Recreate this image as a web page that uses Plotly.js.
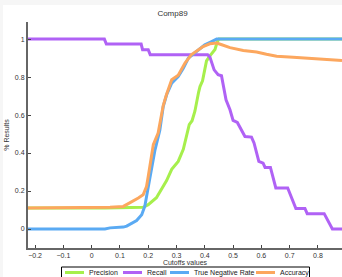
<!DOCTYPE html>
<html>
<head>
<meta charset="utf-8">
<script src="https://cdn.plot.ly/plotly-3.0.1.min.js"></script>
<style>
html,body{margin:0;padding:0;background:#f6f6f6;}
#chart{position:absolute;left:3px;top:5px;width:339px;height:272px;background:#fff;}
</style>
</head>
<body>
<div id="chart"></div>
<script>
const seriesNames = ["Precision", "Recall", "True Negative Rate", "Accuracy"];
const seriesColors = ["#a6ef4c", "#b062f5", "#5aaaf3", "#fca75e"];

const precisionX = [-0.225, 0.047, 0.182, 0.2, 0.229, 0.247, 0.265, 0.283, 0.306, 0.324, 0.338, 0.345, 0.355, 0.365, 0.378, 0.383, 0.392, 0.4, 0.406, 0.418, 0.436, 0.444, 0.45, 0.885];
const precisionY = [0.11, 0.11, 0.114, 0.128, 0.165, 0.207, 0.255, 0.314, 0.356, 0.42, 0.5, 0.55, 0.57, 0.62, 0.72, 0.75, 0.78, 0.85, 0.885, 0.912, 0.945, 0.985, 1, 1];

const recallX = [-0.225, 0.045, 0.052, 0.175, 0.18, 0.2, 0.207, 0.41, 0.418, 0.433, 0.447, 0.459, 0.475, 0.489, 0.50, 0.515, 0.542, 0.565, 0.574, 0.591, 0.606, 0.613, 0.632, 0.651, 0.693, 0.707, 0.722, 0.754, 0.762, 0.822, 0.851, 0.885];
const recallY = [1, 1, 0.974, 0.974, 0.944, 0.944, 0.918, 0.918, 0.905, 0.838, 0.812, 0.807, 0.68, 0.628, 0.572, 0.561, 0.487, 0.484, 0.453, 0.356, 0.347, 0.324, 0.324, 0.216, 0.216, 0.163, 0.108, 0.108, 0.081, 0.081, 0, 0];

const tnrX = [-0.225, 0.047, 0.065, 0.112, 0.124, 0.141, 0.159, 0.177, 0.188, 0.206, 0.224, 0.241, 0.253, 0.265, 0.283, 0.306, 0.324, 0.342, 0.371, 0.40, 0.424, 0.442, 0.885];
const tnrY = [0, 0, 0.006, 0.01, 0.015, 0.031, 0.045, 0.075, 0.12, 0.27, 0.417, 0.52, 0.645, 0.707, 0.768, 0.803, 0.847, 0.9, 0.935, 0.97, 0.987, 1, 1];

const accuracyX = [-0.225, 0.047, 0.065, 0.112, 0.129, 0.147, 0.165, 0.182, 0.194, 0.2, 0.218, 0.235, 0.245, 0.253, 0.265, 0.283, 0.306, 0.33, 0.352, 0.394, 0.418, 0.442, 0.46, 0.489, 0.536, 0.583, 0.618, 0.654, 0.712, 0.771, 0.818, 0.854, 0.885];
const accuracyY = [0.111, 0.111, 0.114, 0.119, 0.133, 0.145, 0.163, 0.18, 0.224, 0.277, 0.444, 0.505, 0.576, 0.65, 0.71, 0.786, 0.81, 0.874, 0.917, 0.961, 0.975, 0.979, 0.97, 0.955, 0.94, 0.932, 0.92, 0.91, 0.904, 0.898, 0.894, 0.887, 0.887];

const xTicks = [-0.2, -0.1, 0, 0.1, 0.2, 0.3, 0.4, 0.5, 0.6, 0.7, 0.8];
const yTicks = [0, 0.2, 0.4, 0.6, 0.8, 1];

const xs = [precisionX, recallX, tnrX, accuracyX];
const ys = [precisionY, recallY, tnrY, accuracyY];

const traces = seriesNames.map((n, i) => ({
  type: 'scatter', mode: 'lines', name: n,
  x: xs[i], y: ys[i], showlegend: false,
  line: {color: seriesColors[i], width: 3}
}));

const font = {family: 'Liberation Sans, Arial, sans-serif', size: 7, color: '#333'};

// plot area in page pixels: x 28..342, y 22..248
const PL = 28, PW = 314, PB = 248, PH = 226;
const px = v => (v - PL) / PW;
const py = v => (PB - v) / PH;

// legend layout (page pixels)
const legStart = [65, 123, 170, 256];
const legLineLen = 19, legTextGap = 3, legY = 272.5;
const shapes = [{
  type: 'rect', xref: 'paper', yref: 'paper',
  x0: px(61.5), x1: px(309.5), y0: py(267), y1: py(280),
  line: {color: '#000', width: 1}, fillcolor: '#fff', layer: 'above'
}];
const annotations = [];
seriesNames.forEach((n, i) => {
  shapes.push({
    type: 'line', xref: 'paper', yref: 'paper',
    x0: px(legStart[i]), x1: px(legStart[i] + legLineLen), y0: py(legY), y1: py(legY),
    line: {color: seriesColors[i], width: 3}, layer: 'above'
  });
  annotations.push({
    xref: 'paper', yref: 'paper', x: px(legStart[i] + legLineLen + legTextGap), y: py(legY),
    xanchor: 'left', yanchor: 'middle', showarrow: false, text: n,
    font: {family: font.family, size: 7, color: '#222'}
  });
});

const layout = {
  width: 339, height: 272,
  margin: {l: 25, r: 0, t: 17, b: 29, pad: 0, autoexpand: false},
  paper_bgcolor: '#fff', plot_bgcolor: '#fff',
  font: font,
  title: {text: 'Comp89', font: {family: font.family, size: 8, color: '#333'}, x: 0.5, xanchor: 'center', y: 0.97, yanchor: 'middle'},
  showlegend: false,
  shapes: shapes,
  annotations: annotations,
  xaxis: {
    range: [-0.225, 0.885], tickvals: xTicks, ticks: 'inside', ticklen: 3, tickcolor: '#444', tickwidth: 1,
    showline: true, linecolor: '#666', linewidth: 2, showgrid: false, zeroline: false,
    tickfont: font,
    title: {text: 'Cutoffs values', font: {family: font.family, size: 7, color: '#333'}, standoff: 2}
  },
  yaxis: {
    range: [-0.1, 1.09], tickvals: yTicks, ticks: 'inside', ticklen: 3, tickcolor: '#444', tickwidth: 1,
    showline: true, linecolor: '#666', linewidth: 2, showgrid: false, zeroline: false,
    tickfont: font,
    title: {text: '% Results', font: {family: font.family, size: 7, color: '#333'}, standoff: 4}
  }
};

Plotly.newPlot('chart', traces, layout, {displayModeBar: false, staticPlot: true});
</script>
</body>
</html>
